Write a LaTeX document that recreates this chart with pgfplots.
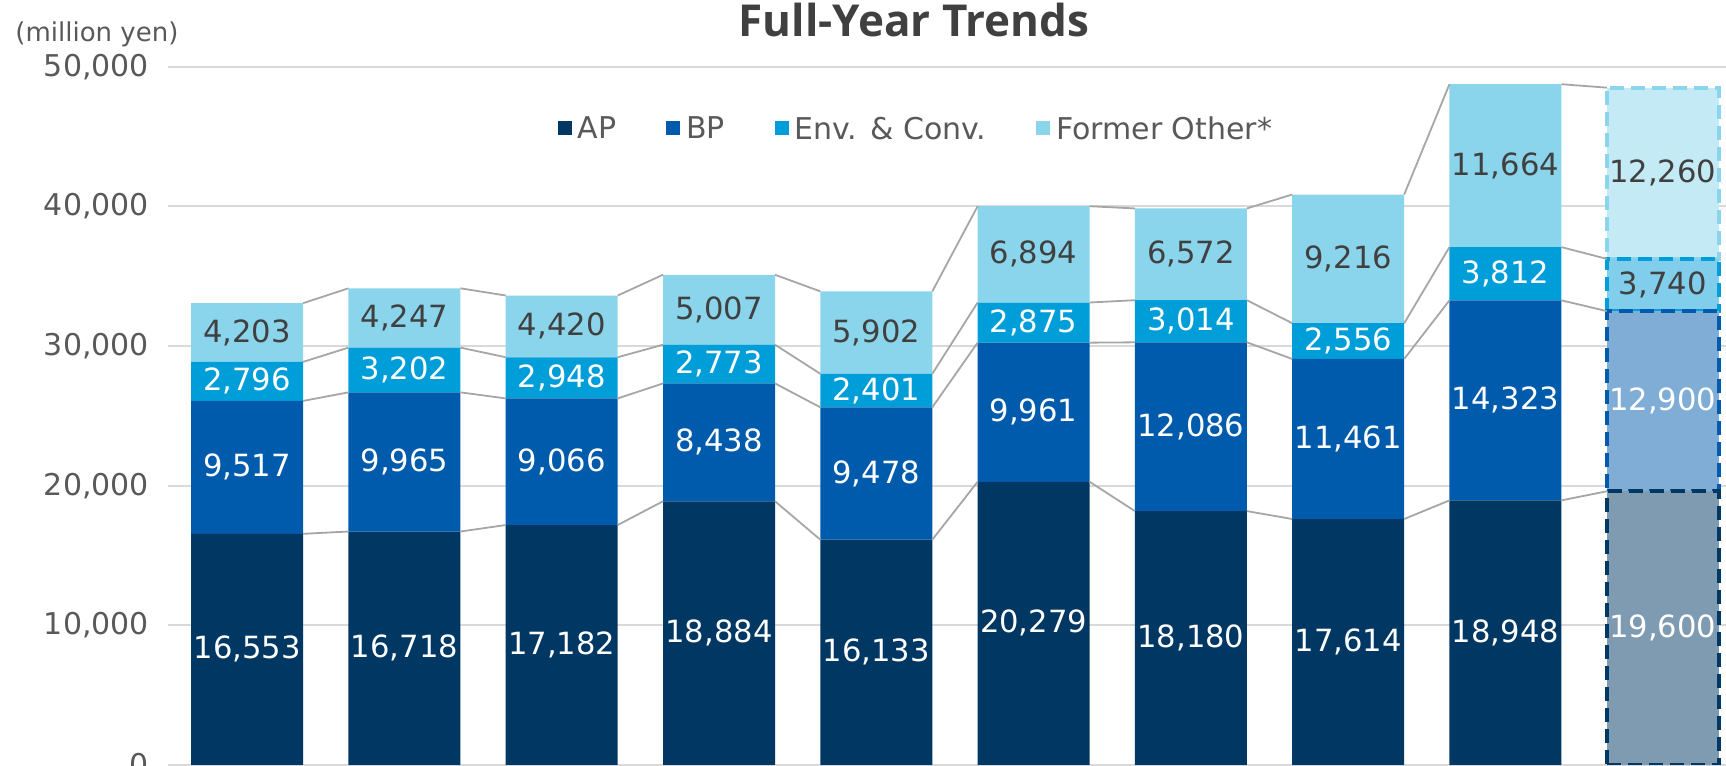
\documentclass[border=0pt]{standalone}
\usepackage{fontspec}
\setmainfont{DejaVu Sans}
\newfontfamily\titlefont{Open Sans}
\usepackage{pgfplots}
\usepackage{pgfplotstable}
\pgfplotsset{compat=1.18}

\definecolor{APc}{HTML}{003763}
\definecolor{BPc}{HTML}{005BAC}
\definecolor{ENVc}{HTML}{009ED9}
\definecolor{OTHc}{HTML}{8AD5EB}
\definecolor{APf}{HTML}{7F9BB1}
\definecolor{BPf}{HTML}{7FADD5}
\definecolor{ENVf}{HTML}{80CEEC}
\definecolor{OTHf}{HTML}{C4EAF5}
\definecolor{gridc}{HTML}{D9D9D9}
\definecolor{linec}{HTML}{A6A6A6}
\definecolor{tickc}{HTML}{595959}
\definecolor{darkc}{HTML}{404040}

\pgfplotstableread{
x AP BP Env Oth
0 16553 9517 2796 4203
1 16718 9965 3202 4247
2 17182 9066 2948 4420
3 18884 8438 2773 5007
4 16133 9478 2401 5902
5 20279 9961 2875 6894
6 18180 12086 3014 6572
7 17614 11461 2556 9216
8 18948 14323 3812 11664
9 19600 12900 3740 12260
}\data

\pgfplotsset{
  base/.style={at={(84.25pt,0.5pt)}, anchor=south west, scale only axis,
    width=778.75pt, height=349.15pt, xmin=-0.5, xmax=9.402, ymin=0, ymax=50000},
  lbl/.style={draw=none, mark=none, nodes near coords,
    every node near coord/.append style={anchor=center, text=#1, font=\fontsize{15.3}{18}\selectfont}},
  fc/.style n args={2}{fill=#1, draw=#2, line width=2pt, dash pattern=on 7pt off 3.5pt, restrict x to domain=9:9},
}
\pgfkeys{/pgf/number format/.cd, fixed, 1000 sep={,}, assume math mode=true}

\begin{document}
\begin{tikzpicture}
% background: grid, ticks, legend
\begin{axis}[base, axis line style={draw=none}, major tick length=0pt, xtick=\empty,
  ytick={0,10000,20000,30000,40000,50000}, scaled y ticks=false,
  ymajorgrids, major grid style={draw=gridc, line width=1pt},
  yticklabel style={font=\fontsize{15}{18}\selectfont, text=tickc, xshift=-6.25pt},
  legend image code/.code={\fill[#1] (0pt,-2.4pt) rectangle (6.5pt,4.1pt);},
  legend style={at={(0.4793,0.9101)}, anchor=center, draw=none, fill=none,
    legend columns=4, font=\fontsize{15}{18}\selectfont, text=tickc,
    nodes={inner sep=0pt},
    /tikz/every odd column/.append style={column sep=3pt},
    /tikz/every even column/.append style={column sep=25pt}}]
\addlegendimage{APc}\addlegendentry{AP}
\addlegendimage{BPc}\addlegendentry{BP}
\addlegendimage{ENVc}\addlegendentry{Env. \& Conv.}
\addlegendimage{OTHc}\addlegendentry{Former Other*}
\end{axis}
% actual bars
\begin{axis}[base, hide axis, ybar stacked, bar width=0.712]
\addplot[fill=APc, draw=none, restrict x to domain=0:8] table[x=x,y=AP]{\data};
\addplot[fill=BPc, draw=none, restrict x to domain=0:8] table[x=x,y=BP]{\data};
\addplot[fill=ENVc, draw=none, restrict x to domain=0:8] table[x=x,y=Env]{\data};
\addplot[fill=OTHc, draw=none, restrict x to domain=0:8] table[x=x,y=Oth]{\data};
\end{axis}
% forecast bar
\begin{axis}[base, hide axis, ybar stacked, bar width=0.712]
\addplot[fc={APf}{APc}] table[x=x,y=AP]{\data};
\addplot[fc={BPf}{BPc}] table[x=x,y=BP]{\data};
\addplot[fc={ENVf}{ENVc}] table[x=x,y=Env]{\data};
\addplot[fc={OTHf}{OTHc}] table[x=x,y=Oth]{\data};
\end{axis}
% series lines and data labels
\begin{axis}[base, hide axis, unbounded coords=jump, clip=false]
\addplot[linec, line width=0.9pt, mark=none] coordinates {
(0.356,16553)(0.644,16718)(1,nan)(1.356,16718)(1.644,17182)(2,nan)(2.356,17182)(2.644,18884)(3,nan)
(3.356,18884)(3.644,16133)(4,nan)(4.356,16133)(4.644,20279)(5,nan)(5.356,20279)(5.644,18180)(6,nan)
(6.356,18180)(6.644,17614)(7,nan)(7.356,17614)(7.644,18948)(8,nan)(8.356,18948)(8.644,19600)};
\addplot[linec, line width=0.9pt, mark=none] coordinates {
(0.356,26070)(0.644,26683)(1,nan)(1.356,26683)(1.644,26248)(2,nan)(2.356,26248)(2.644,27322)(3,nan)
(3.356,27322)(3.644,25611)(4,nan)(4.356,25611)(4.644,30240)(5,nan)(5.356,30240)(5.644,30266)(6,nan)
(6.356,30266)(6.644,29075)(7,nan)(7.356,29075)(7.644,33271)(8,nan)(8.356,33271)(8.644,32500)};
\addplot[linec, line width=0.9pt, mark=none] coordinates {
(0.356,28866)(0.644,29885)(1,nan)(1.356,29885)(1.644,29196)(2,nan)(2.356,29196)(2.644,30095)(3,nan)
(3.356,30095)(3.644,28012)(4,nan)(4.356,28012)(4.644,33115)(5,nan)(5.356,33115)(5.644,33280)(6,nan)
(6.356,33280)(6.644,31631)(7,nan)(7.356,31631)(7.644,37083)(8,nan)(8.356,37083)(8.644,36240)};
\addplot[linec, line width=0.9pt, mark=none] coordinates {
(0.356,33069)(0.644,34132)(1,nan)(1.356,34132)(1.644,33616)(2,nan)(2.356,33616)(2.644,35102)(3,nan)
(3.356,35102)(3.644,33914)(4,nan)(4.356,33914)(4.644,40009)(5,nan)(5.356,40009)(5.644,39852)(6,nan)
(6.356,39852)(6.644,40847)(7,nan)(7.356,40847)(7.644,48747)(8,nan)(8.356,48747)(8.644,48500)};
\addplot[lbl=white, point meta=\thisrow{AP}] table[x=x, y expr=\thisrow{AP}/2]{\data};
\addplot[lbl=white, point meta=\thisrow{BP}] table[x=x, y expr=\thisrow{AP}+\thisrow{BP}/2]{\data};
\addplot[lbl=white, point meta=\thisrow{Env}, restrict x to domain=0:8] table[x=x, y expr=\thisrow{AP}+\thisrow{BP}+\thisrow{Env}/2]{\data};
\addplot[lbl=darkc, point meta=\thisrow{Env}, restrict x to domain=9:9] table[x=x, y expr=\thisrow{AP}+\thisrow{BP}+\thisrow{Env}/2]{\data};
\addplot[lbl=darkc, point meta=\thisrow{Oth}] table[x=x, y expr=\thisrow{AP}+\thisrow{BP}+\thisrow{Env}+\thisrow{Oth}/2]{\data};
\end{axis}
\node[anchor=base, inner sep=0pt, text=darkc, font=\titlefont\bfseries\fontsize{22}{24}\selectfont] at (457pt,364.5pt) {Full-Year Trends};
\node[anchor=base west, inner sep=0pt, text=tickc, font=\fontsize{13}{15}\selectfont] at (7.5pt,362.15pt) {(million yen)};
\pgfresetboundingbox
\useasboundingbox (0pt,0pt) rectangle (863pt,383pt);
\end{tikzpicture}
\end{document}
